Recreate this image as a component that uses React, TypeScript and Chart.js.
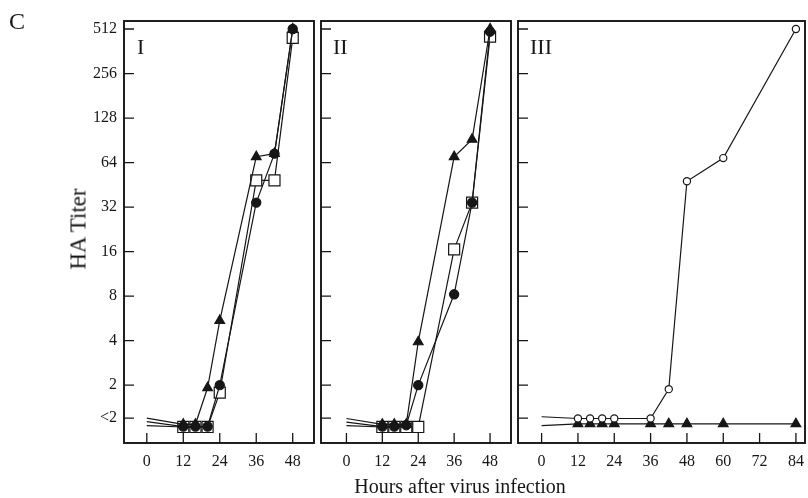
import React, { useEffect, useRef } from 'react';
import { Chart, registerables } from 'chart.js';

Chart.register(...registerables);

// ---------- data (HA titer on a log2 scale; "<2" values sit just under the "<2" tick) ----------
const hoursIandII = [0, 12, 16, 20, 24, 36, 42, 48];
const hoursIII = [0, 12, 16, 20, 24, 36, 42, 48, 60, 84];

// Panel I
const panelICircle = [0.18, 0.07, 0.07, 0.07, 1.0, 5.1, 6.2, 9.0];
const panelITriangle = [0.26, 0.12, 0.12, 0.94, 2.45, 6.13, 6.2, 9.0];
const panelISquare = [0.09, 0.06, 0.06, 0.06, 0.83, 5.6, 5.6, 8.8];

// Panel II
const panelIICircle = [0.17, 0.07, 0.07, 0.1, 1.0, 3.04, 5.1, 8.94];
const panelIITriangle = [0.25, 0.12, 0.12, 0.12, 1.97, 6.13, 6.52, 9.0];
const panelIISquare = [0.09, 0.06, 0.06, 0.06, 0.06, 4.05, 5.1, 8.83];

// Panel III
const panelIIIOpenCircle = [0.29, 0.25, 0.25, 0.25, 0.25, 0.25, 0.91, 5.58, 6.1, 9.0];
const panelIIITriangle = [0.09, 0.13, 0.13, 0.13, 0.13, 0.13, 0.13, 0.13, 0.13, 0.13];

const yTickPositions = [0.26, 1, 2, 3, 4, 5, 6, 7, 8, 9];
const yTickLabels = ['<2', '2', '4', '8', '16', '32', '64', '128', '256', '512'];
const xTicksShort = [0, 12, 24, 36, 48];
const xTicksLong = [0, 12, 24, 36, 48, 60, 72, 84];

const FONT = '"Liberation Serif", "Times New Roman", serif';
const INK = '#161616';

type Style = 'circle' | 'triangle' | 'square' | 'openCircle';

function series(xs: number[], ys: number[], style: Style) {
  const radius = style === 'square' ? 7.8 : style === 'triangle' ? 5.6 : style === 'openCircle' ? 3.6 : 4.6;
  const pointStyle = style === 'square' ? 'rect' : style === 'triangle' ? 'triangle' : 'circle';
  const fill = style === 'square' || style === 'openCircle' ? '#ffffff' : INK;
  return {
    data: xs.map((x, i) => ({ x, y: ys[i] })),
    borderColor: INK,
    borderWidth: 1.2,
    pointStyle,
    pointRadius: xs.map((_, i) => (i === 0 ? 0 : radius)),
    pointBackgroundColor: fill,
    pointBorderColor: INK,
    pointBorderWidth: 1.2,
    tension: 0,
    fill: false,
    clip: false as any,
  };
}

const framePlugin = {
  id: 'frame',
  afterDraw(chart: any) {
    const { ctx, chartArea: a, scales } = chart;
    ctx.save();
    ctx.strokeStyle = INK;
    ctx.lineWidth = 1.3;
    ctx.beginPath();
    scales.x.ticks.forEach((t: any) => {
      const px = scales.x.getPixelForValue(t.value);
      ctx.moveTo(px, a.bottom);
      ctx.lineTo(px, a.bottom - 10);
    });
    scales.y.ticks.forEach((t: any) => {
      const py = scales.y.getPixelForValue(t.value);
      ctx.moveTo(a.left, py);
      ctx.lineTo(a.left + 10, py);
    });
    ctx.stroke();
    ctx.lineWidth = 1.9;
    ctx.strokeRect(a.left, a.top, a.right - a.left, a.bottom - a.top);
    ctx.restore();
  },
};

interface PanelProps {
  left: number;
  width: number;
  yAxisWidth: number;
  padRight: number;
  xMin: number;
  xMax: number;
  xTicks: number[];
  showYLabels: boolean;
  datasets: any[];
}

function Panel(p: PanelProps) {
  const ref = useRef<HTMLCanvasElement | null>(null);
  useEffect(() => {
    if (!ref.current) return;
    const chart = new Chart(ref.current, {
      type: 'line',
      data: { datasets: p.datasets },
      options: {
        responsive: false,
        animation: false,
        events: [],
        layout: { padding: { left: 0, right: p.padRight, top: 21, bottom: 0 } },
        plugins: { legend: { display: false }, tooltip: { enabled: false } },
        scales: {
          x: {
            type: 'linear',
            min: p.xMin,
            max: p.xMax,
            grid: { display: false, drawTicks: false },
            border: { display: false },
            ticks: {
              autoSkip: false,
              maxRotation: 0,
              padding: 9,
              color: INK,
              font: { family: FONT, size: 16 },
            },
            afterBuildTicks: (s: any) => {
              s.ticks = p.xTicks.map((v) => ({ value: v }));
            },
            afterFit: (s: any) => {
              s.height = 55;
            },
          },
          y: {
            type: 'linear',
            min: -0.3,
            max: 9.18,
            grid: { display: false, drawTicks: false },
            border: { display: false },
            ticks: {
              display: p.showYLabels,
              padding: 7,
              color: INK,
              font: { family: FONT, size: 16 },
              callback: (v: any) => {
                const i = yTickPositions.indexOf(Number(v));
                return i >= 0 ? yTickLabels[i] : '';
              },
            },
            afterBuildTicks: (s: any) => {
              s.ticks = yTickPositions.map((v) => ({ value: v }));
            },
            afterFit: (s: any) => {
              s.width = p.yAxisWidth;
            },
          },
        },
      } as any,
      plugins: [framePlugin],
    });
    return () => chart.destroy();
  }, []);
  return (
    <canvas
      ref={ref}
      width={p.width}
      height={498}
      style={{ position: 'absolute', left: p.left, top: 0, width: p.width, height: 498 }}
    />
  );
}

const textBase: React.CSSProperties = {
  position: 'absolute',
  fontFamily: FONT,
  color: INK,
  lineHeight: 1,
  whiteSpace: 'nowrap',
};

export default function App() {
  const panelI = [
    series(hoursIandII, panelICircle, 'circle'),
    series(hoursIandII, panelITriangle, 'triangle'),
    series(hoursIandII, panelISquare, 'square'),
  ];
  const panelII = [
    series(hoursIandII, panelIICircle, 'circle'),
    series(hoursIandII, panelIITriangle, 'triangle'),
    series(hoursIandII, panelIISquare, 'square'),
  ];
  const panelIII = [
    series(hoursIII, panelIIIOpenCircle, 'openCircle'),
    series(hoursIII, panelIIITriangle, 'triangle'),
  ];
  return (
    <div
      style={{
        position: 'fixed',
        left: 0,
        top: 0,
        width: 808,
        height: 498,
        overflow: 'hidden',
        background: '#ffffff',
      }}
    >
      {/* plot areas: I 124–314, II 321–511, III 518–805; top 21, bottom 443 */}
      <Panel left={0} width={334} yAxisWidth={124} padRight={20} xMin={-7.5} xMax={55}
        xTicks={xTicksShort} showYLabels={true} datasets={panelI} />
      <Panel left={301} width={230} yAxisWidth={20} padRight={20} xMin={-8.5} xMax={55}
        xTicks={xTicksShort} showYLabels={false} datasets={panelII} />
      <Panel left={498} width={330} yAxisWidth={20} padRight={23} xMin={-7.8} xMax={87}
        xTicks={xTicksLong} showYLabels={false} datasets={panelIII} />

      <div style={{ ...textBase, left: 9, top: 9, fontSize: 24 }}>C</div>
      <div style={{ ...textBase, left: 137, top: 36, fontSize: 22 }}>I</div>
      <div style={{ ...textBase, left: 333, top: 36, fontSize: 22 }}>II</div>
      <div style={{ ...textBase, left: 530, top: 36, fontSize: 22 }}>III</div>
      <div
        style={{
          ...textBase,
          left: 78,
          top: 229,
          fontSize: 23,
          transform: 'translate(-50%, -50%) rotate(-90deg)',
        }}
      >
        HA Titer
      </div>
      <div style={{ ...textBase, left: 460, top: 476, fontSize: 20, transform: 'translateX(-50%)' }}>
        Hours after virus infection
      </div>
    </div>
  );
}
